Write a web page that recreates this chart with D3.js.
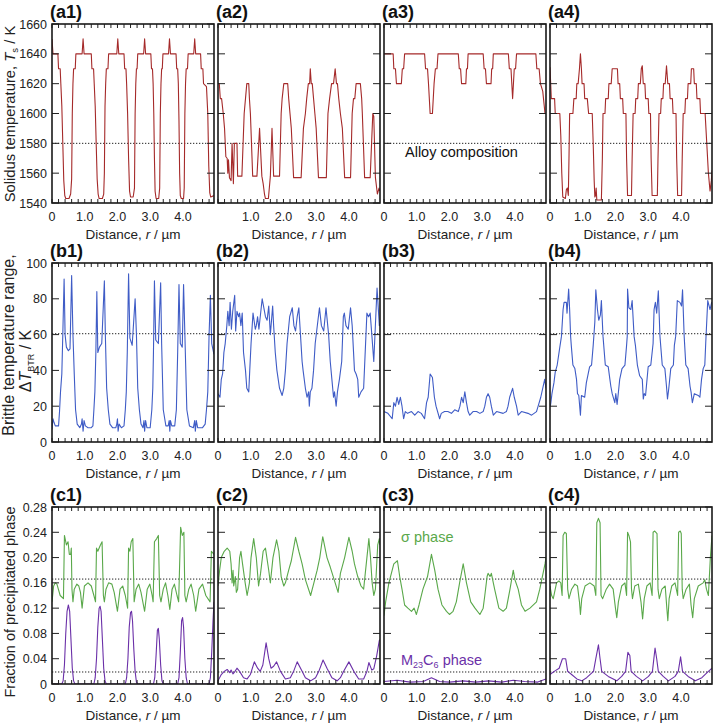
<!DOCTYPE html>
<html><head><meta charset="utf-8">
<script src="https://cdn.jsdelivr.net/npm/d3@7"></script>
<style>
body{margin:0;background:#fff;}
svg{display:block;font-family:"Liberation Sans",Arial,sans-serif;}
</style></head>
<body>
<svg id="chart" width="715" height="724"></svg>
<script>
// ---------- DATA ----------
const xTickValues = [0, 1, 2, 3, 4];
const xTickLabels = ["0", "1.0", "2.0", "3.0", "4.0"];
const yTicksA = [1540, 1560, 1580, 1600, 1620, 1640, 1660];
const yTicksB = [0, 20, 40, 60, 80, 100];
const yTicksC = [0, 0.04, 0.08, 0.12, 0.16, 0.20, 0.24, 0.28];
const yTickLabelsC = ["0", "0.04", "0.08", "0.12", "0.16", "0.20", "0.24", "0.28"];
const panelNamesA = ["(a1)", "(a2)", "(a3)", "(a4)"];
const panelNamesB = ["(b1)", "(b2)", "(b3)", "(b4)"];
const panelNamesC = ["(c1)", "(c2)", "(c3)", "(c4)"];
const refA = [1580];
const refB = [60.5];
const refC = [0.166, 0.019];

// Solidus temperature (K)
const tsA1 = [[0,1650],[0.03,1640],[0.18,1640],[0.2,1630],[0.25,1630],[0.27,1620],[0.3,1605],[0.33,1580],[0.36,1555],[0.39,1545],[0.42,1543],[0.52,1543],[0.57,1546],[0.6,1556],[0.62,1600],[0.64,1620],[0.66,1630],[0.71,1630],[0.73,1640],[0.92,1640],[0.95,1650],[0.98,1640],[1.2,1640],[1.22,1630],[1.27,1630],[1.29,1620],[1.32,1605],[1.35,1580],[1.38,1556],[1.41,1546],[1.44,1543],[1.54,1543],[1.58,1546],[1.6,1560],[1.62,1605],[1.64,1620],[1.66,1630],[1.71,1630],[1.73,1640],[1.98,1640],[2.01,1650],[2.04,1640],[2.2,1640],[2.22,1630],[2.26,1630],[2.28,1620],[2.31,1600],[2.34,1570],[2.37,1548],[2.4,1544],[2.48,1544],[2.52,1550],[2.54,1600],[2.56,1620],[2.58,1630],[2.6,1630],[2.62,1640],[2.8,1640],[2.83,1650],[2.86,1640],[3.02,1640],[3.04,1630],[3.07,1630],[3.09,1620],[3.11,1600],[3.13,1570],[3.15,1548],[3.18,1543],[3.26,1543],[3.29,1550],[3.31,1600],[3.33,1620],[3.35,1630],[3.37,1630],[3.39,1640],[3.56,1640],[3.59,1650],[3.62,1640],[3.79,1640],[3.81,1630],[3.84,1630],[3.86,1620],[3.88,1595],[3.9,1560],[3.92,1545],[3.95,1543],[4.02,1543],[4.04,1550],[4.06,1600],[4.08,1620],[4.1,1630],[4.14,1630],[4.16,1640],[4.33,1640],[4.36,1650],[4.39,1640],[4.54,1640],[4.56,1630],[4.61,1630],[4.63,1620],[4.72,1618],[4.76,1600],[4.79,1565],[4.82,1547],[4.85,1544],[4.95,1545]];
const tsA2 = [[0,1620],[0.04,1620],[0.07,1610],[0.11,1610],[0.16,1600],[0.2,1590],[0.24,1571],[0.28,1570],[0.3,1560],[0.32,1569],[0.35,1557],[0.4,1555],[0.43,1580],[0.47,1553],[0.5,1580],[0.58,1580],[0.6,1558],[0.73,1558],[0.8,1600],[0.84,1610],[0.88,1620],[0.94,1620],[0.96,1610],[0.99,1600],[1.06,1558],[1.19,1558],[1.27,1590],[1.34,1558],[1.38,1553],[1.42,1546],[1.45,1543],[1.54,1543],[1.6,1558],[1.65,1590],[1.7,1558],[1.88,1558],[1.93,1600],[1.96,1610],[2.01,1620],[2.13,1620],[2.16,1610],[2.2,1600],[2.24,1590],[2.31,1557],[2.54,1557],[2.61,1590],[2.67,1600],[2.71,1610],[2.76,1620],[2.8,1620],[2.82,1630],[2.85,1620],[2.88,1620],[2.92,1610],[2.96,1600],[3.0,1590],[3.07,1557],[3.31,1557],[3.36,1600],[3.41,1610],[3.47,1620],[3.53,1620],[3.58,1630],[3.62,1620],[3.65,1620],[3.69,1610],[3.74,1600],[3.8,1590],[3.87,1557],[4.05,1557],[4.1,1600],[4.14,1610],[4.18,1610],[4.22,1620],[4.35,1620],[4.39,1610],[4.41,1600],[4.48,1557],[4.65,1557],[4.73,1600],[4.76,1598],[4.81,1557],[4.87,1546],[4.92,1550],[4.95,1548]];
const tsA3 = [[0,1640],[0.28,1640],[0.3,1630],[0.35,1630],[0.38,1620],[0.53,1620],[0.56,1630],[0.6,1630],[0.63,1640],[1.24,1640],[1.27,1630],[1.33,1630],[1.36,1620],[1.41,1600],[1.48,1600],[1.53,1620],[1.57,1630],[1.62,1630],[1.65,1640],[2.27,1640],[2.3,1630],[2.34,1630],[2.37,1620],[2.5,1620],[2.52,1630],[2.55,1630],[2.57,1640],[3.03,1640],[3.06,1630],[3.1,1630],[3.13,1620],[3.27,1620],[3.29,1630],[3.32,1630],[3.34,1640],[3.8,1640],[3.83,1630],[3.88,1630],[3.93,1610],[3.98,1630],[4.02,1630],[4.05,1640],[4.64,1640],[4.67,1630],[4.74,1630],[4.78,1620],[4.85,1615],[4.92,1600],[4.95,1600]];
const tsA4 = [[0,1631],[0.04,1610],[0.14,1610],[0.16,1600],[0.3,1600],[0.33,1585],[0.36,1560],[0.39,1544],[0.47,1543],[0.5,1549],[0.53,1550],[0.56,1545],[0.58,1570],[0.6,1600],[0.7,1600],[0.73,1610],[0.8,1610],[0.82,1620],[0.86,1620],[0.9,1630],[0.93,1640],[0.96,1630],[0.98,1620],[1.04,1620],[1.06,1610],[1.14,1610],[1.18,1600],[1.29,1600],[1.32,1580],[1.35,1555],[1.37,1544],[1.39,1545],[1.41,1550],[1.43,1542],[1.57,1542],[1.6,1570],[1.62,1600],[1.68,1600],[1.7,1610],[1.78,1610],[1.8,1620],[1.87,1620],[1.9,1630],[2.06,1630],[2.08,1620],[2.13,1620],[2.15,1610],[2.22,1610],[2.24,1600],[2.32,1600],[2.34,1570],[2.37,1545],[2.49,1545],[2.51,1570],[2.54,1600],[2.6,1600],[2.62,1610],[2.68,1610],[2.7,1620],[2.76,1620],[2.79,1630],[2.82,1632],[2.85,1620],[2.9,1620],[2.92,1610],[3.0,1610],[3.02,1600],[3.07,1600],[3.09,1570],[3.12,1545],[3.28,1545],[3.3,1570],[3.33,1600],[3.38,1600],[3.4,1610],[3.45,1610],[3.47,1620],[3.52,1620],[3.56,1632],[3.6,1620],[3.65,1620],[3.67,1610],[3.74,1610],[3.76,1600],[3.85,1600],[3.87,1570],[3.9,1545],[4.02,1545],[4.04,1570],[4.07,1600],[4.12,1600],[4.14,1610],[4.2,1610],[4.22,1620],[4.3,1620],[4.32,1630],[4.39,1630],[4.41,1620],[4.47,1620],[4.49,1610],[4.58,1610],[4.6,1600],[4.74,1600],[4.79,1580],[4.84,1560],[4.89,1548],[4.93,1555],[4.95,1562]];

// Brittle temperature range (K)
const btrB1 = [[0,7],[0.03,13],[0.06,11],[0.1,9],[0.2,9],[0.23,17],[0.26,28],[0.3,38],[0.33,60],[0.37,91],[0.4,60],[0.44,53],[0.5,51],[0.55,52],[0.6,93],[0.64,60],[0.68,38],[0.72,18],[0.77,10],[0.85,8],[0.9,10],[0.92,13],[0.95,6],[0.98,12],[1.02,9],[1.1,8],[1.2,8],[1.25,9],[1.28,18],[1.31,28],[1.34,50],[1.37,84],[1.4,50],[1.45,53],[1.52,55],[1.6,90],[1.63,60],[1.67,30],[1.72,18],[1.77,10],[1.85,8],[1.95,8],[1.98,10],[2.0,13],[2.02,6],[2.05,10],[2.12,8],[2.2,9],[2.24,18],[2.27,28],[2.3,50],[2.34,94],[2.38,58],[2.45,54],[2.54,80],[2.58,60],[2.62,30],[2.67,18],[2.72,10],[2.78,8],[2.81,12],[2.83,6],[2.86,12],[2.9,8],[3.0,8],[3.05,18],[3.08,30],[3.1,50],[3.13,90],[3.17,57],[3.25,55],[3.32,89],[3.35,55],[3.4,18],[3.48,9],[3.55,9],[3.58,12],[3.6,6],[3.62,12],[3.66,9],[3.75,9],[3.8,18],[3.84,50],[3.88,88],[3.92,55],[3.98,53],[4.02,88],[4.06,60],[4.12,18],[4.2,9],[4.32,8],[4.36,12],[4.38,6],[4.41,12],[4.45,8],[4.6,8],[4.68,10],[4.72,18],[4.76,28],[4.8,60],[4.84,82],[4.88,55],[4.95,49]];
const btrB2 = [[0,27],[0.06,25],[0.1,35],[0.14,38],[0.18,50],[0.22,55],[0.27,65],[0.3,73],[0.34,65],[0.37,78],[0.41,63],[0.45,73],[0.51,82],[0.54,62],[0.58,73],[0.63,70],[0.66,72],[0.7,65],[0.74,72],[0.78,50],[0.84,40],[0.88,30],[0.94,28],[0.97,40],[1.01,55],[1.07,72],[1.14,63],[1.17,65],[1.21,70],[1.25,63],[1.35,80],[1.45,70],[1.5,68],[1.55,76],[1.6,60],[1.67,76],[1.7,65],[1.75,50],[1.8,40],[1.88,30],[1.96,26],[2.01,30],[2.06,40],[2.11,55],[2.19,70],[2.27,75],[2.32,65],[2.37,62],[2.42,70],[2.47,75],[2.52,60],[2.57,45],[2.6,40],[2.67,30],[2.72,25],[2.77,28],[2.79,20],[2.82,28],[2.87,30],[2.92,40],[2.97,55],[3.1,75],[3.16,65],[3.23,62],[3.3,75],[3.38,60],[3.43,45],[3.48,35],[3.53,25],[3.56,28],[3.61,20],[3.65,28],[3.71,35],[3.78,45],[3.83,70],[3.86,72],[3.91,65],[3.98,63],[4.05,75],[4.1,65],[4.17,40],[4.22,38],[4.27,35],[4.3,25],[4.37,28],[4.45,30],[4.55,72],[4.6,70],[4.65,72],[4.7,60],[4.76,45],[4.86,86],[4.93,65],[4.95,66]];
const btrB3 = [[0,17],[0.12,16],[0.25,13],[0.3,22],[0.35,20],[0.4,25],[0.45,21],[0.5,25],[0.55,20],[0.6,13],[0.65,17],[0.72,16],[0.84,17],[0.94,15],[1.04,17],[1.14,16],[1.24,13],[1.3,22],[1.35,25],[1.41,38],[1.48,36],[1.54,25],[1.59,20],[1.7,13],[1.75,16],[1.85,17],[1.95,17],[2.06,16],[2.16,18],[2.27,17],[2.32,20],[2.37,25],[2.42,22],[2.47,28],[2.52,22],[2.57,17],[2.62,15],[2.72,17],[2.83,17],[2.93,16],[3.03,17],[3.08,20],[3.13,25],[3.18,27],[3.23,25],[3.28,20],[3.34,15],[3.44,17],[3.64,16],[3.74,17],[3.79,20],[3.84,25],[3.93,30],[3.98,25],[4.05,20],[4.1,15],[4.2,17],[4.4,16],[4.51,15],[4.66,17],[4.71,20],[4.79,25],[4.91,35],[4.95,30]];
const btrB4 = [[0,20],[0.02,21],[0.06,27],[0.12,33],[0.16,39],[0.22,43],[0.3,53],[0.35,59],[0.4,74],[0.43,78],[0.5,78],[0.52,72],[0.57,85.5],[0.6,74],[0.63,59],[0.65,54],[0.7,43],[0.76,41],[0.81,35],[0.84,27],[0.88,26],[0.93,15],[0.96,26],[1.06,25],[1.11,33],[1.21,42],[1.27,43],[1.32,54],[1.37,67],[1.4,85],[1.45,74],[1.49,68],[1.54,71],[1.57,79],[1.62,59],[1.69,43],[1.78,42],[1.83,35],[1.86,31],[1.9,27],[1.98,22],[2.01,27],[2.05,21],[2.08,26],[2.13,35],[2.2,41],[2.29,43],[2.34,54],[2.36,59],[2.37,85.5],[2.41,75],[2.47,74],[2.51,79],[2.57,59],[2.61,54],[2.67,43],[2.74,37],[2.82,35],[2.85,24],[2.88,27],[2.92,26],[3.0,42],[3.08,43],[3.15,55],[3.18,74],[3.22,78],[3.26,72],[3.31,84.5],[3.36,59],[3.43,43],[3.51,41],[3.56,31],[3.59,24],[3.63,30],[3.69,41],[3.77,43],[3.8,54],[3.84,59],[3.89,79],[3.97,78],[4.02,76],[4.05,85],[4.1,59],[4.15,43],[4.22,41],[4.28,31],[4.31,28],[4.35,22],[4.41,27],[4.53,26],[4.58,25],[4.63,35],[4.68,41],[4.73,43],[4.76,56],[4.82,79],[4.89,74],[4.94,78],[4.95,77]];

// Fraction of sigma phase
const sigmaC1 = [[0,0.13],[0.05,0.155],[0.1,0.16],[0.15,0.158],[0.25,0.14],[0.35,0.135],[0.38,0.235],[0.44,0.22],[0.49,0.225],[0.53,0.205],[0.57,0.205],[0.59,0.215],[0.61,0.15],[0.64,0.13],[0.68,0.15],[0.76,0.158],[0.82,0.155],[0.87,0.145],[0.92,0.12],[0.99,0.155],[1.1,0.16],[1.2,0.155],[1.28,0.14],[1.33,0.13],[1.36,0.215],[1.4,0.21],[1.48,0.22],[1.53,0.225],[1.57,0.14],[1.6,0.13],[1.65,0.15],[1.73,0.16],[1.83,0.158],[1.9,0.145],[2.0,0.115],[2.08,0.15],[2.16,0.155],[2.24,0.14],[2.31,0.12],[2.34,0.215],[2.38,0.21],[2.42,0.225],[2.47,0.23],[2.51,0.13],[2.57,0.15],[2.65,0.158],[2.72,0.145],[2.83,0.115],[2.91,0.15],[2.99,0.158],[3.06,0.14],[3.09,0.13],[3.13,0.225],[3.2,0.23],[3.25,0.235],[3.29,0.14],[3.33,0.13],[3.4,0.15],[3.47,0.16],[3.54,0.14],[3.6,0.118],[3.67,0.15],[3.74,0.158],[3.82,0.14],[3.87,0.13],[3.93,0.248],[3.98,0.235],[4.03,0.24],[4.06,0.14],[4.1,0.13],[4.18,0.15],[4.25,0.158],[4.33,0.14],[4.39,0.115],[4.49,0.15],[4.6,0.158],[4.7,0.14],[4.83,0.13],[4.87,0.21],[4.95,0.205]];
const sigmaC2 = [[0,0.155],[0.05,0.18],[0.1,0.2],[0.19,0.21],[0.28,0.215],[0.36,0.21],[0.4,0.19],[0.43,0.16],[0.46,0.18],[0.48,0.155],[0.53,0.17],[0.56,0.145],[0.6,0.15],[0.66,0.2],[0.7,0.21],[0.75,0.19],[0.83,0.16],[0.89,0.14],[0.96,0.16],[1.01,0.2],[1.09,0.23],[1.17,0.2],[1.24,0.155],[1.3,0.175],[1.38,0.21],[1.45,0.215],[1.55,0.18],[1.6,0.16],[1.68,0.2],[1.79,0.228],[1.86,0.21],[1.93,0.17],[2.01,0.155],[2.06,0.16],[2.16,0.18],[2.24,0.195],[2.37,0.232],[2.47,0.21],[2.57,0.19],[2.67,0.165],[2.83,0.14],[2.93,0.16],[3.03,0.18],[3.11,0.2],[3.2,0.233],[3.33,0.2],[3.43,0.185],[3.58,0.16],[3.67,0.145],[3.74,0.175],[3.87,0.2],[4.0,0.232],[4.1,0.21],[4.17,0.19],[4.27,0.17],[4.37,0.155],[4.45,0.15],[4.5,0.175],[4.55,0.2],[4.61,0.23],[4.66,0.2],[4.71,0.16],[4.76,0.14],[4.81,0.15],[4.88,0.22],[4.93,0.23],[4.95,0.22]];
const sigmaC3 = [[0,0.108],[0.05,0.13],[0.15,0.16],[0.3,0.19],[0.41,0.195],[0.48,0.17],[0.55,0.15],[0.63,0.125],[0.73,0.12],[0.84,0.115],[0.92,0.12],[0.99,0.11],[1.07,0.125],[1.19,0.15],[1.33,0.17],[1.45,0.205],[1.55,0.18],[1.65,0.15],[1.77,0.125],[1.91,0.115],[2.0,0.11],[2.11,0.115],[2.21,0.13],[2.31,0.16],[2.42,0.19],[2.52,0.16],[2.65,0.13],[2.78,0.12],[2.93,0.11],[3.03,0.12],[3.08,0.14],[3.15,0.17],[3.18,0.175],[3.24,0.17],[3.28,0.175],[3.38,0.15],[3.51,0.12],[3.64,0.115],[3.74,0.12],[3.85,0.15],[3.9,0.165],[3.95,0.18],[4.0,0.165],[4.1,0.15],[4.2,0.125],[4.31,0.115],[4.46,0.12],[4.66,0.13],[4.76,0.15],[4.92,0.19],[4.95,0.2]];
const sigmaC4 = [[0,0.155],[0.05,0.14],[0.1,0.135],[0.2,0.16],[0.27,0.163],[0.33,0.16],[0.37,0.14],[0.4,0.235],[0.45,0.24],[0.5,0.238],[0.54,0.15],[0.58,0.135],[0.66,0.15],[0.76,0.158],[0.84,0.155],[0.9,0.13],[0.93,0.11],[0.97,0.135],[1.07,0.155],[1.22,0.16],[1.35,0.155],[1.4,0.14],[1.43,0.255],[1.48,0.262],[1.53,0.255],[1.56,0.14],[1.61,0.135],[1.72,0.15],[1.82,0.158],[1.93,0.15],[2.0,0.12],[2.04,0.105],[2.09,0.13],[2.19,0.155],[2.29,0.16],[2.34,0.14],[2.37,0.24],[2.41,0.235],[2.46,0.225],[2.49,0.15],[2.52,0.135],[2.59,0.155],[2.7,0.158],[2.78,0.13],[2.83,0.103],[2.88,0.135],[2.96,0.155],[3.06,0.16],[3.12,0.14],[3.15,0.24],[3.2,0.242],[3.27,0.238],[3.3,0.15],[3.34,0.135],[3.42,0.15],[3.52,0.155],[3.57,0.12],[3.6,0.1],[3.64,0.135],[3.72,0.155],[3.82,0.16],[3.9,0.14],[3.93,0.24],[3.98,0.242],[4.01,0.238],[4.04,0.15],[4.07,0.135],[4.16,0.15],[4.26,0.158],[4.31,0.125],[4.36,0.105],[4.41,0.135],[4.53,0.155],[4.68,0.16],[4.73,0.165],[4.78,0.15],[4.84,0.14],[4.9,0.2],[4.95,0.235]];

// Fraction of M23C6 phase
const m23C1 = [[0,0],[0.3,0],[0.34,0.005],[0.38,0.03],[0.42,0.08],[0.46,0.115],[0.5,0.125],[0.54,0.115],[0.58,0.07],[0.62,0.025],[0.66,0.005],[0.7,0],[1.28,0],[1.32,0.01],[1.36,0.04],[1.4,0.09],[1.44,0.12],[1.47,0.123],[1.5,0.115],[1.54,0.07],[1.58,0.025],[1.62,0.005],[1.66,0],[2.24,0],[2.28,0.01],[2.32,0.04],[2.36,0.09],[2.4,0.113],[2.43,0.115],[2.46,0.1],[2.5,0.055],[2.54,0.02],[2.58,0.003],[2.62,0],[3.1,0],[3.14,0.01],[3.18,0.045],[3.22,0.085],[3.25,0.088],[3.28,0.07],[3.32,0.03],[3.36,0.005],[3.4,0],[3.84,0],[3.88,0.01],[3.92,0.05],[3.96,0.1],[3.99,0.105],[4.02,0.09],[4.06,0.04],[4.1,0.01],[4.14,0],[4.8,0],[4.84,0.01],[4.88,0.05],[4.92,0.1],[4.95,0.13]];
const m23C2 = [[0,0.005],[0.1,0.015],[0.19,0.02],[0.28,0.023],[0.36,0.018],[0.4,0.022],[0.46,0.016],[0.52,0.02],[0.58,0.025],[0.66,0.02],[0.78,0.01],[0.89,0.008],[0.99,0.015],[1.11,0.035],[1.21,0.025],[1.29,0.02],[1.37,0.03],[1.47,0.065],[1.55,0.04],[1.62,0.025],[1.7,0.028],[1.79,0.035],[1.91,0.02],[2.06,0.008],[2.21,0.01],[2.31,0.02],[2.42,0.035],[2.57,0.02],[2.67,0.01],[2.83,0.005],[2.98,0.01],[3.08,0.02],[3.21,0.038],[3.33,0.025],[3.48,0.01],[3.64,0.005],[3.74,0.01],[3.84,0.02],[4.0,0.035],[4.15,0.02],[4.3,0.008],[4.45,0.008],[4.55,0.02],[4.61,0.034],[4.7,0.022],[4.76,0.024],[4.85,0.045],[4.93,0.069],[4.95,0.07]];
const m23C3 = [[0,0.004],[0.4,0.006],[0.8,0.003],[1.2,0.004],[1.45,0.01],[1.7,0.004],[2.0,0.003],[2.42,0.005],[2.8,0.003],[3.2,0.005],[3.6,0.003],[3.95,0.006],[4.3,0.004],[4.7,0.003],[4.95,0.008]];
const m23C4 = [[0,0.015],[0.13,0.02],[0.28,0.025],[0.38,0.04],[0.48,0.04],[0.54,0.02],[0.66,0.015],[0.82,0.008],[0.97,0.005],[1.12,0.01],[1.33,0.02],[1.4,0.04],[1.48,0.062],[1.53,0.04],[1.58,0.02],[1.78,0.012],[2.04,0.005],[2.19,0.012],[2.31,0.02],[2.38,0.05],[2.44,0.045],[2.48,0.02],[2.64,0.012],[2.83,0.005],[3.01,0.012],[3.13,0.02],[3.21,0.057],[3.26,0.04],[3.31,0.02],[3.46,0.012],[3.62,0.005],[3.82,0.012],[3.92,0.02],[3.99,0.043],[4.05,0.02],[4.22,0.012],[4.44,0.005],[4.64,0.01],[4.84,0.02],[4.95,0.025]];

// ---------- LAYOUT ----------
const svg = d3.select("#chart");
const lefts = [52, 218, 384, 550];
const pw = 162;
const xDomain = [0, 4.95];
const minorX = d3.range(0, 4.81, 0.2);
const colRed = "#a52a2a", colBlue = "#3f5cc6", colGreen = "#5aa84a", colPurple = "#6b30a8";

const rows = [
  {top: 24, h: 179, domain: [1540, 1660], ticks: yTicksA, labels: yTicksA.map(String), names: panelNamesA,
   refs: refA, series: [[tsA1], [tsA2], [tsA3], [tsA4]], colors: [colRed]},
  {top: 263, h: 179, domain: [0, 100], ticks: yTicksB, labels: yTicksB.map(String), names: panelNamesB,
   refs: refB, series: [[btrB1], [btrB2], [btrB3], [btrB4]], colors: [colBlue]},
  {top: 507, h: 177, domain: [0, 0.28], ticks: yTicksC, labels: yTickLabelsC, names: panelNamesC,
   refs: refC, series: [[sigmaC1, m23C1], [sigmaC2, m23C2], [sigmaC3, m23C3], [sigmaC4, m23C4]], colors: [colGreen, colPurple]}
];

const defs = svg.append("defs");

rows.forEach((row, ri) => {
  const y = d3.scaleLinear().domain(row.domain).range([row.top + row.h, row.top]);
  lefts.forEach((lx, ci) => {
    const x = d3.scaleLinear().domain(xDomain).range([lx, lx + pw]);
    const g = svg.append("g");
    const cid = `clip${ri}${ci}`;
    defs.append("clipPath").attr("id", cid).append("rect")
      .attr("x", lx).attr("y", row.top).attr("width", pw).attr("height", row.h);

    row.refs.forEach(v => {
      g.append("line").attr("x1", lx).attr("x2", lx + pw).attr("y1", y(v)).attr("y2", y(v))
        .attr("stroke", "#222").attr("stroke-width", 1).attr("stroke-dasharray", "1.3,1.7");
    });

    const line = d3.line().x(d => x(d[0])).y(d => y(d[1]));
    row.series[ci].forEach((s, si) => {
      g.append("path").datum(s).attr("d", line).attr("fill", "none")
        .attr("stroke", row.colors[si]).attr("stroke-width", 1.1)
        .attr("stroke-linejoin", "round").attr("clip-path", `url(#${cid})`);
    });

    minorX.forEach(v => {
      g.append("line").attr("x1", x(v)).attr("x2", x(v)).attr("y1", row.top).attr("y2", row.top + 4)
        .attr("stroke", "#222").attr("stroke-width", 1);
      g.append("line").attr("x1", x(v)).attr("x2", x(v)).attr("y1", row.top + row.h).attr("y2", row.top + row.h - 4)
        .attr("stroke", "#222").attr("stroke-width", 1);
    });
    row.ticks.forEach(v => {
      g.append("line").attr("x1", lx).attr("x2", lx + 7).attr("y1", y(v)).attr("y2", y(v))
        .attr("stroke", "#222").attr("stroke-width", 1);
      g.append("line").attr("x1", lx + pw).attr("x2", lx + pw - 7).attr("y1", y(v)).attr("y2", y(v))
        .attr("stroke", "#222").attr("stroke-width", 1);
    });

    g.append("rect").attr("x", lx).attr("y", row.top).attr("width", pw).attr("height", row.h)
      .attr("fill", "none").attr("stroke", "#1a1a1a").attr("stroke-width", 1.6);

    xTickValues.forEach((v, i) => {
      if (ri === 0 && ci === 1 && v === 0) return;
      g.append("text").attr("x", x(v)).attr("y", row.top + row.h + 18)
        .attr("text-anchor", "middle").attr("font-size", 12.5).attr("fill", "#222").text(xTickLabels[i]);
    });
    const xt = g.append("text").attr("x", lx + pw / 2).attr("y", row.top + row.h + 36)
      .attr("text-anchor", "middle").attr("font-size", 13.5).attr("fill", "#222");
    xt.append("tspan").text("Distance, ");
    xt.append("tspan").attr("font-style", "italic").text("r");
    xt.append("tspan").text(" / µm");

    g.append("text").attr("x", lx - 2).attr("y", row.top - 6).attr("font-size", 18)
      .attr("font-weight", "bold").attr("fill", "#111").text(row.names[ci]);

    if (ci === 0) {
      row.ticks.forEach((v, i) => {
        g.append("text").attr("x", lx - 5).attr("y", y(v) + 4.5).attr("text-anchor", "end")
          .attr("font-size", 12.5).attr("fill", "#222").text(row.labels[i]);
      });
    }

    if (ri === 0 && ci === 2) {
      g.append("text").attr("x", lx + 21).attr("y", 157).attr("font-size", 14.5).attr("fill", "#111")
        .text("Alloy composition");
    }
    if (ri === 2 && ci === 2) {
      g.append("text").attr("x", lx + 17).attr("y", 542).attr("font-size", 14.5).attr("fill", colGreen)
        .text("σ phase");
      const mt = g.append("text").attr("x", lx + 17).attr("y", 665).attr("font-size", 14.5).attr("fill", colPurple);
      mt.append("tspan").text("M");
      mt.append("tspan").attr("font-size", 9).attr("dy", 3).text("23");
      mt.append("tspan").attr("dy", -3).text("C");
      mt.append("tspan").attr("font-size", 9).attr("dy", 3).text("6");
      mt.append("tspan").attr("dy", -3).text(" phase");
    }
  });
});

const ya = svg.append("text").attr("transform", "translate(15,114) rotate(-90)")
  .attr("text-anchor", "middle").attr("font-size", 14.8).attr("fill", "#222");
ya.append("tspan").text("Solidus temperature, ");
ya.append("tspan").attr("font-style", "italic").text("T");
ya.append("tspan").attr("font-size", 9.5).attr("dy", 3).text("s");
ya.append("tspan").attr("dy", -3).text(" / K");

svg.append("text").attr("transform", "translate(14,345) rotate(-90)")
  .attr("text-anchor", "middle").attr("font-size", 16).attr("fill", "#222").text("Brittle temperature range,");
const yb = svg.append("text").attr("transform", "translate(31,361) rotate(-90)")
  .attr("text-anchor", "middle").attr("font-size", 16).attr("fill", "#222");
yb.append("tspan").text("Δ");
yb.append("tspan").attr("font-style", "italic").text("T");
yb.append("tspan").attr("font-size", 9).attr("dy", 3).text("BTR");
yb.append("tspan").attr("dy", -3).text(" / K");

svg.append("text").attr("transform", "translate(15,602) rotate(-90)")
  .attr("text-anchor", "middle").attr("font-size", 14.5).attr("fill", "#222").text("Fraction of precipitated phase");
</script>
</body></html>
